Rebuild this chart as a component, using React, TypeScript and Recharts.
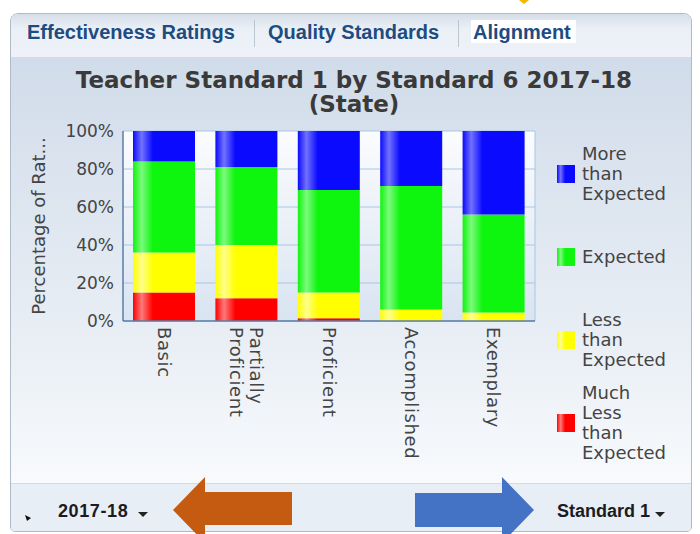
import React from "react";
import { Bar, BarChart, CartesianGrid, XAxis, YAxis } from "recharts";

const CATEGORIES = ["Basic", "Partially Proficient", "Proficient", "Accomplished", "Exemplary"];
const MUCH_LESS = [15, 12, 1.5, 0, 0];
const LESS = [21, 28, 13.5, 6, 4.5];
const EXPECTED = [48, 41, 54, 65, 51.5];
const MORE = [16, 19, 31, 29, 44];
const Y_TICKS = [0, 20, 40, 60, 80, 100];

// bottom of the stack first
const SERIES = [
  { key: "muchLess", name: "Much Less than Expected", color: "#ff0000", light: "#ff7a7a", values: MUCH_LESS },
  { key: "less", name: "Less than Expected", color: "#ffff00", light: "#ffff8c", values: LESS },
  { key: "expected", name: "Expected", color: "#0ef50e", light: "#7cfa7c", values: EXPECTED },
  { key: "more", name: "More than Expected", color: "#0a0aff", light: "#7272ff", values: MORE },
];

const data = CATEGORIES.map((name, i) => {
  const row: Record<string, string | number> = { name };
  SERIES.forEach((s) => (row[s.key] = s.values[i]));
  return row;
});

const FONT = "'DejaVu Sans', sans-serif";
const TAB_FONT = "'Liberation Sans', Arial, sans-serif";
const MARGIN = { top: 131, right: 165, bottom: 63, left: 20 };

function CategoryTick({ x, y, payload }: any) {
  const label: string = payload.value;
  const lines = label.length > 12 ? label.split(" ") : [label];
  return (
    <text
      transform={`translate(${x},${y - 2}) rotate(90)`}
      fontSize={18}
      fontFamily={FONT}
      letterSpacing={0.6}
      fill="#444"
    >
      {lines.map((line, i) => (
        <tspan key={i} x={0} dy={i === 0 ? `${0.35 - (lines.length - 1) * 0.55}em` : "1.1em"}>
          {line}
        </tspan>
      ))}
    </text>
  );
}

function YTitle({ viewBox }: any) {
  const cx = viewBox.x + 18.5;
  const cy = viewBox.y + viewBox.height / 2;
  return (
    <text
      x={cx}
      y={cy}
      transform={`rotate(-90, ${cx}, ${cy})`}
      textAnchor="middle"
      dominantBaseline="central"
      fontSize={18}
      fontFamily={FONT}
      fill="#444"
    >
      Percentage of Rat...
    </text>
  );
}

function Caret({ left, top }: { left: number; top: number }) {
  return (
    <div
      style={{
        position: "absolute",
        left,
        top,
        width: 0,
        height: 0,
        borderLeft: "5px solid transparent",
        borderRight: "5px solid transparent",
        borderTop: "5px solid #222",
      }}
    />
  );
}

export default function App() {
  return (
    <div
      style={{
        position: "absolute",
        left: 0,
        top: 0,
        width: 700,
        height: 534,
        background: "#fff",
        overflow: "hidden",
        fontFamily: FONT,
      }}
    >
      {/* panel */}
      <div
        style={{
          position: "absolute",
          left: 10,
          top: 13,
          width: 680,
          height: 517,
          border: "1px solid #aebbc9",
          borderRadius: "8px 8px 5px 5px",
          overflow: "hidden",
        }}
      >
        <div
          style={{
            position: "absolute",
            left: 0,
            top: 0,
            width: "100%",
            height: 43,
            background: "linear-gradient(#d6dee8, #ebf0f6 35%, #eef2f8)",
          }}
        />
        <div
          style={{
            position: "absolute",
            left: 0,
            top: 43,
            width: "100%",
            height: 426,
            background: "linear-gradient(#d1dcea, #e7edf4 62%, #f8fafc)",
          }}
        />
        <div
          style={{
            position: "absolute",
            left: 0,
            top: 469,
            width: "100%",
            height: 60,
            background: "#e8eef5",
            borderTop: "1px solid #d3dbe5",
          }}
        />
      </div>

      {/* tabs */}
      <div style={{ position: "absolute", left: 27, top: 22, font: `bold 20px/20px ${TAB_FONT}`, color: "#1d4c82" }}>
        Effectiveness Ratings
      </div>
      <div style={{ position: "absolute", left: 254, top: 20, width: 1, height: 27, background: "#bcc6d0" }} />
      <div style={{ position: "absolute", left: 268, top: 22, font: `bold 20px/20px ${TAB_FONT}`, color: "#1d4c82" }}>
        Quality Standards
      </div>
      <div style={{ position: "absolute", left: 458, top: 20, width: 1, height: 27, background: "#bcc6d0" }} />
      <div style={{ position: "absolute", left: 471, top: 20, width: 105, height: 23, background: "#fff" }} />
      <div style={{ position: "absolute", left: 473, top: 22, font: `bold 20px/20px ${TAB_FONT}`, color: "#1d4c82" }}>
        Alignment
      </div>

      {/* title */}
      <div
        style={{
          position: "absolute",
          left: 0,
          top: 68,
          width: 708,
          textAlign: "center",
          font: `bold 23px/24px ${FONT}`,
          color: "#3a3a3a",
        }}
      >
        Teacher Standard 1 by Standard 6 2017-18
        <br />
        (State)
      </div>

      {/* chart */}
      <div style={{ position: "absolute", left: 0, top: 0 }}>
        <BarChart width={700} height={534} data={data} margin={MARGIN}>
          <defs>
            <linearGradient id="plotBg" x1="0" y1="0" x2="0" y2="1">
              <stop offset="0%" stopColor="#fbfcfe" />
              <stop offset="100%" stopColor="#d9e4f1" />
            </linearGradient>
            {SERIES.map((s) => (
              <linearGradient key={s.key} id={`grad-${s.key}`} x1="0" y1="0" x2="1" y2="0">
                <stop offset="0%" stopColor={s.color} />
                <stop offset="14%" stopColor={s.light} />
                <stop offset="32%" stopColor={s.color} />
                <stop offset="100%" stopColor={s.color} />
              </linearGradient>
            ))}
          </defs>
          <CartesianGrid
            fill="url(#plotBg)"
            fillOpacity={1}
            stroke="#a9c6e5"
            verticalCoordinatesGenerator={({ offset }: any) =>
              offset ? [offset.left + offset.width] : [700 - MARGIN.right]
            }
          />
          <XAxis
            dataKey="name"
            interval={0}
            height={150}
            tickLine={false}
            axisLine={{ stroke: "#5b7ea6", strokeWidth: 1.5 }}
            tick={<CategoryTick />}
          />
          <YAxis
            width={103}
            domain={[0, 100]}
            ticks={Y_TICKS}
            tickFormatter={(v) => `${v}%`}
            tickLine={false}
            tickMargin={3}
            axisLine={{ stroke: "#5b7ea6", strokeWidth: 1.5 }}
            tick={{ fontSize: 17, fill: "#444", fontFamily: FONT }}
            label={<YTitle />}
          />
          {SERIES.map((s) => (
            <Bar
              key={s.key}
              dataKey={s.key}
              name={s.name}
              stackId="a"
              barSize={62}
              fill={`url(#grad-${s.key})`}
              isAnimationActive={false}
            />
          ))}
        </BarChart>
      </div>

      {/* legend */}
      <div style={{ position: "absolute", left: 557, top: 132, width: 130 }}>
        {[...SERIES].reverse().map((s) => (
          <div key={s.key} style={{ height: 83, display: "flex", alignItems: "center" }}>
            <div
              style={{
                width: 18,
                height: 18,
                flex: "none",
                background: `linear-gradient(to right, ${s.color}, ${s.light} 20%, ${s.color} 45%)`,
              }}
            />
            <div style={{ marginLeft: 7, font: `18px/20px ${FONT}`, color: "#444" }}>
              {s.name.split(" ").map((w, i) => (
                <div key={i}>{w}</div>
              ))}
            </div>
          </div>
        ))}
      </div>

      {/* footer */}
      <div style={{ position: "absolute", left: 58, top: 501, font: `bold 18px/20px ${TAB_FONT}`, color: "#1b1b24", letterSpacing: 0.6 }}>
        2017-18
      </div>
      <Caret left={138} top={512} />
      <div style={{ position: "absolute", left: 557, top: 501, font: `bold 18px/20px ${TAB_FONT}`, color: "#1b1b24" }}>
        Standard 1
      </div>
      <Caret left={655} top={512} />

      {/* annotations */}
      <svg width={700} height={534} style={{ position: "absolute", left: 0, top: 0, pointerEvents: "none" }}>
        <polygon points="519,0 529,0 524,4" fill="#f5b400" />
        <polygon points="25,515 31,518 27,521" fill="#111" />
        <polygon points="173,510 205,477 205,492 292,492 292,525 205,525 205,543" fill="#c55a11" />
        <polygon points="415,493 502,493 502,477 534,510 502,543 502,527 415,527" fill="#4472c4" />
      </svg>
    </div>
  );
}
